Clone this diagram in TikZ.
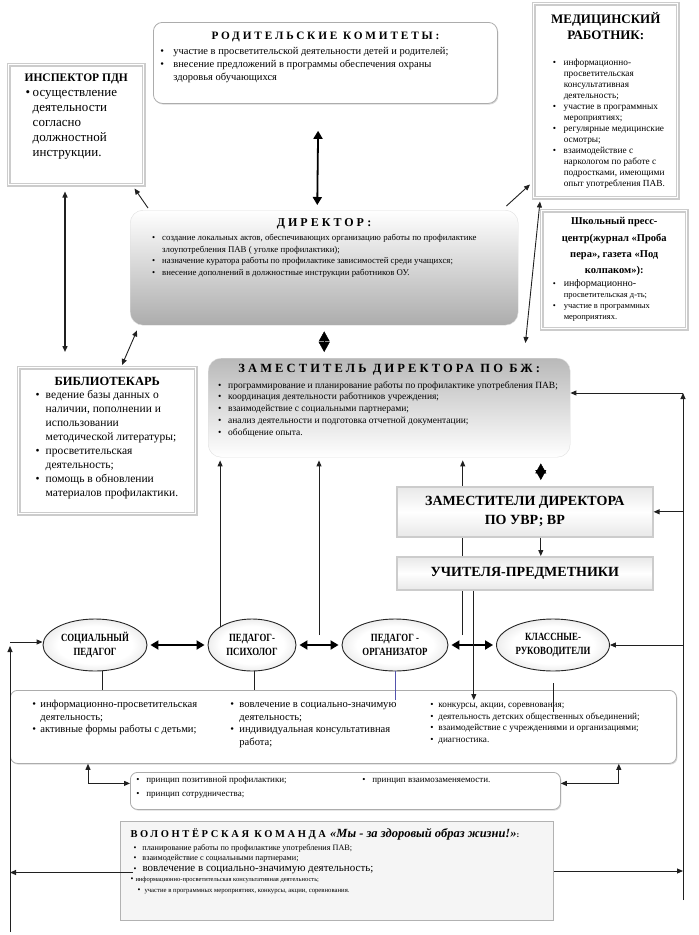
\documentclass[tikz,border=0pt]{standalone}
\usepackage{fontspec}
\setmainfont{Liberation Serif}
\newfontfamily\spc[LetterSpace=25]{Liberation Serif}
\newfontfamily\cnd[FakeStretch=0.8]{Liberation Serif}
\usetikzlibrary{arrows.meta,shapes.geometric,shadows,backgrounds,calc}
\pgfdeclareradialshading{ellshade}{\pgfpoint{0bp}{0bp}}{color(0bp)=(white); color(18bp)=(white); color(50bp)=(gray!62)}
\tikzstyle{rbox} = [draw=gray!65, line width=.8pt, rounded corners=9pt, fill=white,
    drop shadow={shadow xshift=1pt, shadow yshift=-1.2pt, fill=gray!60}, inner sep=0pt]
\tikzstyle{dbox} = [draw=gray!40, line width=1.5pt, double=white, double distance=.8pt,
    fill=white, inner sep=0pt]
\tikzstyle{gbox} = [draw=gray!25, rounded corners=13pt, inner sep=0pt]
\tikzstyle{pbox} = [draw=gray!40, line width=1.6pt, top color=gray!18, bottom color=gray!18,
    middle color=white, drop shadow={shadow xshift=.8pt, shadow yshift=-.8pt, fill=gray!50},
    font=\fontsize{14}{19}\selectfont\bfseries, align=center]
\tikzstyle{vbox} = [draw=gray!60, line width=1pt, fill=gray!8, inner sep=0pt]
\tikzstyle{ell} = [ellipse, draw=gray!30!black, line width=.9pt, shading=ellshade,
    minimum height=52pt, inner sep=1pt, align=center,
    font=\fontsize{11}{14}\selectfont\cnd\bfseries]
\tikzstyle{con} = [draw=gray!25!black, line width=.9pt, >={Triangle[length=6pt,width=5pt]}]
\tikzstyle{bigar} = [draw=black, line width=1.8pt, >={Triangle[length=8pt,width=9pt]}]
\tikzstyle{dia} = [draw=black, line width=.4pt, shorten <=6pt, shorten >=6pt,
    >={Triangle[length=10pt,width=11pt]}]
\newlength{\bulx}
\newlength{\bulw}
\newcommand{\inbox}[3]{\parbox[c][#2pt][t]{#1pt}{\raggedright#3}}
\newcommand{\bul}[1]{\par{\let\\\newline\leftskip=\bulx\hangindent=\bulw\hangafter=1\noindent
    \hbox to \bulw{\textbullet\hfil}#1\par}}
\newcommand{\ttl}[2]{{\centering\fontsize{#1}{#1}\selectfont\spc\bfseries #2\par}}

\begin{document}
\begin{tikzpicture}[x=1pt,y=-1pt]
  \useasboundingbox (0,0) rectangle (699,935);

  \node[rbox,anchor=north west] (rod) at (153,22) {\inbox{344}{81}{%
    \fontsize{10.5}{13}\selectfont\setlength{\bulx}{7pt}\setlength{\bulw}{13pt}\vspace*{10pt}%
    \ttl{11.3}{РОДИТЕЛЬСКИЕ КОМИТЕТЫ:}\vspace{2pt}%
    \bul{участие в просветительской деятельности детей и родителей;}%
    \bul{внесение предложений в программы обеспечения охраны\\здоровья обучающихся}}};
  \node[dbox,anchor=north west] (insp) at (8,64) {\inbox{135}{120}{%
    \fontsize{13}{15}\selectfont\setlength{\bulx}{17pt}\setlength{\bulw}{7pt}\vspace*{9pt}%
    {\centering\fontsize{11.5}{15}\selectfont\bfseries ИНСПЕКТОР ПДН\par}%
    \bul{осуществление\\деятельности\\согласно\\должностной\\инструкции.}}};
  \node[dbox,anchor=north west] (med) at (533,3) {\inbox{144}{194}{%
    \fontsize{9.3}{11}\selectfont\setlength{\bulx}{19pt}\setlength{\bulw}{11pt}\vspace*{9pt}%
    {\centering\fontsize{13}{16}\selectfont\bfseries МЕДИЦИНСКИЙ\\РАБОТНИК:\par}\vspace{15pt}%
    \bul{информационно-\\просветительская\\консультативная\\деятельность;}%
    \bul{участие в программных\\мероприятиях;}%
    \bul{регулярные медицинские\\осмотры;}%
    \bul{взаимодействие с\\наркологом по работе с\\подростками, имеющими\\опыт употребления ПАВ.}}};
  \node[gbox,top color=white,bottom color=gray!65,anchor=north west] (dir) at (130,210) {\inbox{388}{115}{%
    \fontsize{8.8}{11.5}\selectfont\setlength{\bulx}{22pt}\setlength{\bulw}{10pt}\vspace*{8pt}%
    \ttl{12}{ДИРЕКТОР:}\vspace{3pt}%
    \bul{создание локальных актов, обеспечивающих организацию работы по профилактике\\злоупотребления ПАВ ( уголке профилактики);}%
    \bul{назначение куратора работы по профилактике зависимостей среди учащихся;}%
    \bul{внесение дополнений в должностные инструкции работников ОУ.}}};
  \node[dbox,anchor=north west] (press) at (541,210) {\inbox{145}{118}{%
    \fontsize{8.5}{11}\selectfont\setlength{\bulx}{11pt}\setlength{\bulw}{11pt}\vspace*{7pt}%
    {\centering\fontsize{10.5}{16.3}\selectfont\bfseries Школьный пресс-\\центр(журнал «Проба\\пера», газета «Под\\колпаком»):\par}\vspace{2pt}%
    \bul{{\fontsize{10}{11}\selectfont информационно-}\\просветительская д-ть;}%
    \bul{участие в программных\\мероприятиях.}}};
  \node[dbox,anchor=north west] (lib) at (18,367) {\inbox{177}{146}{%
    \fontsize{11.5}{13.9}\selectfont\setlength{\bulx}{17pt}\setlength{\bulw}{10pt}\vspace*{9pt}%
    {\centering\fontsize{12.5}{14}\selectfont\bfseries БИБЛИОТЕКАРЬ\par}%
    \bul{ведение базы данных о\\наличии, пополнении и\\использовании\\методической литературы;}%
    \bul{просветительская\\деятельность;}%
    \bul{помощь в обновлении\\материалов профилактики.}}};
  \node[gbox,top color=gray!55,bottom color=white,anchor=north west] (zam) at (208,358) {\inbox{362}{99}{%
    \fontsize{9.5}{11.75}\selectfont\setlength{\bulx}{10pt}\setlength{\bulw}{10pt}\vspace*{6pt}%
    \ttl{12.5}{ЗАМЕСТИТЕЛЬ ДИРЕКТОРА ПО БЖ:}\vspace{4pt}%
    \bul{программирование и планирование работы по профилактике употребления ПАВ;}%
    \bul{координация деятельности работников учреждения;}%
    \bul{взаимодействие с социальными партнерами;}%
    \bul{анализ деятельности и подготовка отчетной документации;}%
    \bul{обобщение опыта.}}};
  \node[pbox,anchor=north west,minimum width=256pt,minimum height=50pt] (uvr) at (396,486) {ЗАМЕСТИТЕЛИ ДИРЕКТОРА\\ПО УВР; ВР};
  \node[pbox,anchor=north west,minimum width=256pt,minimum height=33pt] (uch) at (396,556) {УЧИТЕЛЯ-ПРЕДМЕТНИКИ};

  \node[ell,minimum width=104pt] (soc) at (95,645) {СОЦИАЛЬНЫЙ\\ПЕДАГОГ};
  \node[ell,minimum width=88pt] (psy) at (252,645) {ПЕДАГОГ-\\ПСИХОЛОГ};
  \node[ell,minimum width=106pt] (org) at (395,645) {ПЕДАГОГ -\\ОРГАНИЗАТОР};
  \node[ell,minimum width=113pt] (kl) at (553,645) {КЛАССНЫЕ-\\РУКОВОДИТЕЛИ};

  \node[rbox,rounded corners=7pt,anchor=north west] (dej) at (10,690) {\inbox{666}{73}{%
    \setlength{\bulx}{0pt}\vspace*{10pt}\hspace*{22pt}%
    \parbox[t]{198pt}{\raggedright\fontsize{10.6}{12.5}\selectfont\setlength{\bulw}{8pt}%
      \bul{информационно-просветительская\\деятельность;}\bul{активные формы работы с детьми;}}%
    \parbox[t]{200pt}{\raggedright\fontsize{10.6}{12.5}\selectfont\setlength{\bulw}{9pt}%
      \bul{вовлечение в социально-значимую\\деятельность;}\bul{индивидуальная консультативная\\работа;}}%
    \parbox[t]{240pt}{\raggedright\fontsize{9.2}{11.5}\selectfont\setlength{\bulw}{8pt}%
      \bul{конкурсы, акции, соревнования;}\bul{деятельность детских общественных объединений;}%
      \bul{взаимодействие с учреждениями и организациями;}\bul{диагностика.}}}};
  \node[rbox,rounded corners=7pt,anchor=north west] (prin) at (130,772) {\inbox{430}{37}{%
    \setlength{\bulx}{0pt}\setlength{\bulw}{10pt}\fontsize{9}{14}\selectfont\vspace*{4pt}\hspace*{6pt}%
    \parbox[t]{226pt}{\raggedright\bul{принцип позитивной профилактики;}\bul{принцип сотрудничества;}}%
    \parbox[t]{190pt}{\raggedright\bul{принцип взаимозаменяемости.}}}};
  \node[vbox,anchor=north west] (vol) at (120,821) {\inbox{433}{99}{%
    \fontsize{8.2}{10.5}\selectfont\vspace*{7pt}%
    \hspace*{10pt}{\fontsize{10.5}{12}\selectfont\spc\bfseries ВОЛОНТЁРСКАЯ КОМАНДА}\enspace
    {\fontsize{12.5}{12}\selectfont\bfseries\itshape «Мы - за здоровый образ жизни!»}{\bfseries:}\par\vspace{2pt}%
    \setlength{\bulx}{13pt}\setlength{\bulw}{9pt}%
    \bul{планирование работы по профилактике употребления ПАВ;}%
    \bul{взаимодействие с социальными партнерами;}%
    \bul{{\fontsize{11}{10.5}\selectfont вовлечение в социально-значимую деятельность;}}%
    \setlength{\bulx}{10pt}\setlength{\bulw}{5pt}%
    \bul{{\fontsize{6.5}{10.5}\selectfont информационно-просветительская консультативная деятельность;}}%
    \setlength{\bulx}{17pt}\setlength{\bulw}{7pt}%
    \bul{{\fontsize{6.7}{10.5}\selectfont участие в программных мероприятиях, конкурсы, акции, соревнования.}}}};

  \draw[bigar,<->,shorten <=27pt,shorten >=5pt] ([xshift=-7pt]rod.south) -- ([xshift=-7pt]dir.north);
  \draw[con,->] ([xshift=18pt,yshift=2pt]dir.north west) -- ([xshift=-10pt,yshift=-3pt]insp.south east);
  \draw[con,->] ([xshift=-12pt,yshift=4pt]dir.north east) -- ([xshift=-3pt,yshift=14pt]med.south west);
  \draw[con,<->,line width=1.4pt] ([xshift=57pt,yshift=-6pt]insp.south west) -- ([xshift=47pt,yshift=15pt]lib.north west);
  \draw[con,<->] ([xshift=7pt,yshift=-5pt]dir.south west) -- ([xshift=104pt,yshift=2pt]lib.north west);
  \draw[con,<->] ([xshift=7pt,yshift=-3pt]med.south west) -- ([xshift=-45pt,yshift=15pt]zam.north east);
  \draw[dia,<->] (dir.south) -- (dir.south |- zam.north);
  \draw[dia,<->] ([xshift=16pt]uvr.north) -- ([xshift=16pt]uvr.north |- zam.south);
  \draw[con,->] ([xshift=16pt]uvr.south) -- ([xshift=16pt]uch.north);

  \coordinate (g1) at ($(psy.east)!.5!(org.west)$);
  \coordinate (g2) at ($(org.east)!.3!(kl.west)$);
  \draw[con,->,shorten >=3pt] (psy.150) -- (psy.150 |- zam.south);
  \draw[con,->,shorten >=3pt] ([yshift=10pt]g1) -- (g1 |- zam.south);
  \begin{scope}[on background layer]
    \draw[con,->,shorten >=3pt] ([yshift=10pt]g2) -- (g2 |- zam.south);
  \end{scope}
  \draw[bigar,<->,shorten <=3pt,shorten >=3pt] (soc) -- (psy);
  \draw[bigar,<->,shorten <=3pt,shorten >=3pt] (psy) -- (org);
  \draw[bigar,<->,shorten <=3pt,shorten >=3pt] (org) -- (kl);

  \draw[con] (soc.285) -- (soc.285 |- dej.north);
  \draw[con] (psy.275) -- (psy.275 |- dej.north);
  \draw[blue!35!gray,line width=.5pt] (org.270) -- ([yshift=-10pt]org.270 |- dej.north);
  \draw[con] ([yshift=-12pt]kl.south) -- ([yshift=-22pt]kl.south |- dej.north);
  \draw[con,->] ([xshift=-51pt]uch.south) -- ([xshift=-51pt,yshift=-10pt]uch.south |- dej.north);
  \draw[con,<->] ([xshift=78pt]dej.south west) |- ([yshift=7.5pt]prin.west);
  \draw[con,<->] ([xshift=-58pt]dej.south east) |- ([yshift=7.5pt]prin.east);

  \coordinate (lb) at (10,932);
  \coordinate (lt) at (10,646);
  \coordinate (rb) at (683,900);
  \coordinate (rt) at (683,393);
  \draw[con,->] (lb) -- (lt);
  \draw[con,->] ([yshift=4pt]lt) -- ([yshift=4pt]lt -| soc.west);
  \draw[con,->] ([xshift=13pt,yshift=-1.5pt]vol.west) -- ([yshift=-1.5pt]vol.west -| lb);
  \draw[con,->] (rb) -- (rt);
  \draw[con,->] (rt) -- (rt -| zam.east);
  \draw[con,->] (uvr.east -| rb) -- (uvr.east);
  \draw[con,->] (kl.east -| rb) -- (kl.east);
  \draw[con,->] (vol.east) -- (vol.east -| rb);
\end{tikzpicture}
\end{document}
